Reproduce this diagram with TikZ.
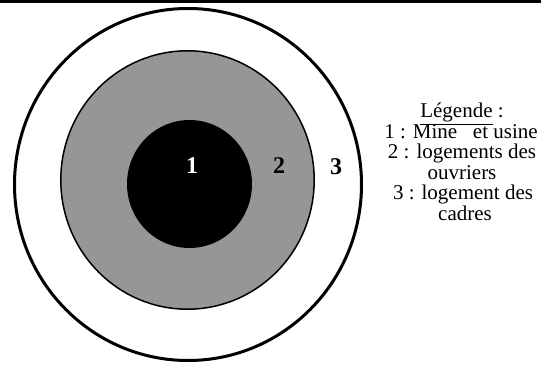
\documentclass[tikz,border=0pt]{standalone}
\usepackage{fontspec}
\setmainfont{Liberation Serif}
\definecolor{ringgray}{RGB}{150,150,150}
\begin{document}
\begin{tikzpicture}[x=1pt,y=-1pt,
  legendline/.style={anchor=base,inner sep=0pt,font=\fontsize{21}{21}\selectfont},
  ringnum/.style={inner sep=0pt,font=\fontsize{24}{24}\selectfont\bfseries}]
\useasboundingbox (0,0) rectangle (541,371);
\coordinate (tl) at (0,1.5);
\coordinate (tr) at (541,1.5);
\draw[line width=2.5pt] (tl) -- (tr);
% rings
\draw[line width=3pt,fill=white] (188,184.5) ellipse [x radius=173.5,y radius=176];
\draw[line width=1.5pt,fill=ringgray] (187.5,180) ellipse [x radius=126.7,y radius=129.2];
\fill[black] (189.5,184) ellipse [x radius=62.5,y radius=64];
\node[ringnum,text=white] (n1) at (192,166) {1};
\node[ringnum] (n2) at (279,166) {2};
\node[ringnum] (n3) at (336,167) {3};
% legend
\node[legendline] (l0) at (462,118) {\underline{Légende} :};
\node[legendline] (l1) at (461,138.5) {1 : Mine\ \ \ et usine};
\node[legendline] (l2) at (462,159) {2 : logements des};
\node[legendline] (l3) at (462,179.5) {ouvriers};
\node[legendline] (l4) at (463,200) {3 : logement des};
\node[legendline] (l5) at (465,220.5) {cadres};
\end{tikzpicture}
\end{document}
